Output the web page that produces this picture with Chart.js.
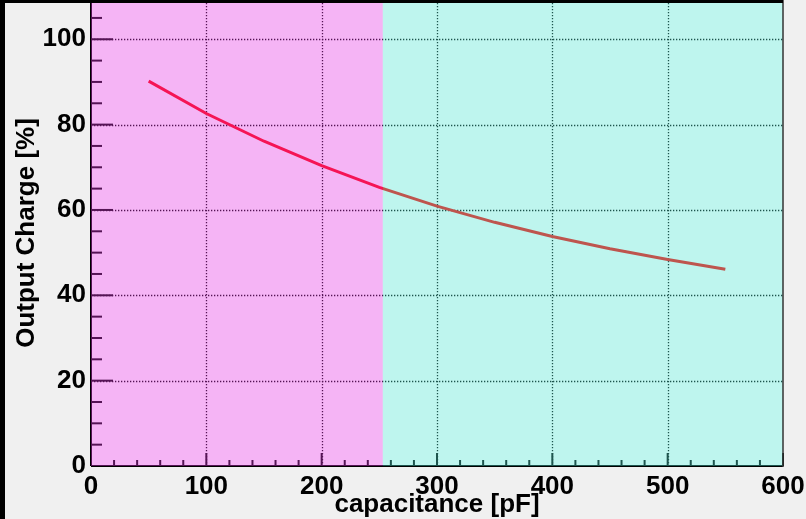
<!DOCTYPE html>
<html>
<head>
<script src="https://cdn.jsdelivr.net/npm/chart.js@4.4.1/dist/chart.umd.min.js"></script>
<style>
  body { margin: 0; background: #f0f0f0; }
</style>
</head>
<body>
<canvas id="chargeChart" width="806" height="519"></canvas>
<script>
// measured output charge vs load capacitance
var capacitance = [50, 100, 150, 200, 250, 300, 350, 400, 450, 500, 550];
var outputCharge = [90.2, 82.6, 76.1, 70.4, 65.3, 60.9, 57.1, 53.8, 50.9, 48.4, 46.1];

var xTickValues = [0, 100, 200, 300, 400, 500, 600];
var yTickValues = [0, 20, 40, 60, 80, 100];

// shaded capacitance ranges
var bandEdges = [0, 253, 600];

var FONT = "'Liberation Sans', Arial, Helvetica, sans-serif";

function line(ctx, x1, y1, x2, y2) {
  ctx.beginPath();
  ctx.moveTo(x1, y1);
  ctx.lineTo(x2, y2);
  ctx.stroke();
}

var rootFrame = {
  id: 'rootFrame',
  beforeDraw: function (chart) {
    var ctx = chart.ctx, a = chart.chartArea;
    var xs = chart.scales.x, ys = chart.scales.y;
    ctx.save();
    ctx.fillStyle = '#f0f0f0';
    ctx.fillRect(0, 0, chart.width, chart.height);
    ctx.fillStyle = '#ffffff';
    ctx.fillRect(a.left, a.top, a.right - a.left, a.bottom - a.top);

    // dotted grid
    ctx.strokeStyle = '#000';
    ctx.lineWidth = 1.3;
    ctx.setLineDash([1.3, 1.7]);
    xTickValues.forEach(function (v) {
      var px = Math.round(xs.getPixelForValue(v)) + 0.5;
      if (px > a.left + 2 && px < a.right - 2) line(ctx, px, a.top, px, a.bottom);
    });
    yTickValues.forEach(function (v) {
      var py = Math.round(ys.getPixelForValue(v)) + 0.5;
      if (py > a.top + 2 && py < a.bottom - 2) line(ctx, a.left, py, a.right, py);
    });
    ctx.restore();
  },
  afterDatasetsDraw: function (chart) {
    var ctx = chart.ctx, a = chart.chartArea;
    var xs = chart.scales.x, ys = chart.scales.y;
    ctx.save();
    ctx.strokeStyle = '#000';
    ctx.lineWidth = 2;

    // axis lines
    line(ctx, a.left, a.top, a.left, a.bottom);
    line(ctx, a.left, a.bottom, a.right, a.bottom);

    // inward ticks, major and minor
    var v, px, py;
    for (v = 0; v <= 600; v += 20) {
      px = xs.getPixelForValue(v);
      line(ctx, px, a.bottom, px, a.bottom - (v % 100 === 0 ? 13 : 6));
    }
    for (v = 0; v <= ys.max; v += 5) {
      py = ys.getPixelForValue(v);
      line(ctx, a.left, py, a.left + (v % 20 === 0 ? 22 : 11), py);
    }

    // translucent colour bands over the plot
    var bandColors = ['rgba(228, 54, 228, 0.373)', 'rgba(80, 228, 209, 0.373)'];
    for (var i = 0; i < bandEdges.length - 1; i++) {
      var x0 = xs.getPixelForValue(bandEdges[i]);
      var x1 = xs.getPixelForValue(bandEdges[i + 1]);
      ctx.fillStyle = bandColors[i];
      ctx.fillRect(x0, a.top, x1 - x0, a.bottom - a.top);
    }

    // right frame edge
    ctx.strokeStyle = '#333';
    ctx.lineWidth = 1.5;
    line(ctx, a.right, a.top, a.right, a.bottom + 1);
    ctx.restore();
  },
  afterDraw: function (chart) {
    var ctx = chart.ctx, a = chart.chartArea;
    ctx.save();
    ctx.fillStyle = '#000';
    ctx.fillRect(0, 0, 5, chart.height);
    ctx.fillRect(0, 0, a.right, 3);
    ctx.restore();
  }
};

new Chart(document.getElementById('chargeChart'), {
  type: 'line',
  data: {
    datasets: [{
      data: capacitance.map(function (c, i) { return { x: c, y: outputCharge[i] }; }),
      borderColor: '#ff0000',
      borderWidth: 3,
      pointRadius: 0,
      tension: 0,
      fill: false
    }]
  },
  options: {
    responsive: false,
    animation: false,
    layout: { padding: { left: 0, right: 23, top: 0, bottom: 0 } },
    plugins: { legend: { display: false }, tooltip: { enabled: false } },
    scales: {
      x: {
        type: 'linear',
        min: 0,
        max: 600,
        afterBuildTicks: function (s) { s.ticks = xTickValues.map(function (v) { return { value: v }; }); },
        afterFit: function (s) { s.height = 53; s.paddingLeft = 0; s.paddingRight = 0; },
        grid: { display: false, drawTicks: false },
        border: { display: false },
        ticks: {
          color: '#000',
          padding: 5,
          maxRotation: 0,
          font: { family: FONT, size: 26, weight: 'bold' }
        },
        title: {
          display: true,
          text: 'capacitance [pF]',
          color: '#000',
          padding: { top: 0, bottom: 1 },
          font: { family: FONT, size: 26, weight: 'bold', lineHeight: 1 }
        }
      },
      y: {
        type: 'linear',
        min: 0,
        max: 109.2,
        afterBuildTicks: function (s) { s.ticks = yTickValues.map(function (v) { return { value: v }; }); },
        afterFit: function (s) { s.width = 91; s.paddingTop = 0; s.paddingBottom = 0; },
        grid: { display: false, drawTicks: false },
        border: { display: false },
        ticks: {
          color: '#000',
          padding: 5,
          font: { family: FONT, size: 26, weight: 'bold' }
        },
        title: {
          display: true,
          text: 'Output Charge [%]',
          color: '#000',
          padding: { top: 14, bottom: 0 },
          font: { family: FONT, size: 26, weight: 'bold', lineHeight: 1 }
        }
      }
    }
  },
  plugins: [rootFrame]
});
</script>
</body>
</html>
